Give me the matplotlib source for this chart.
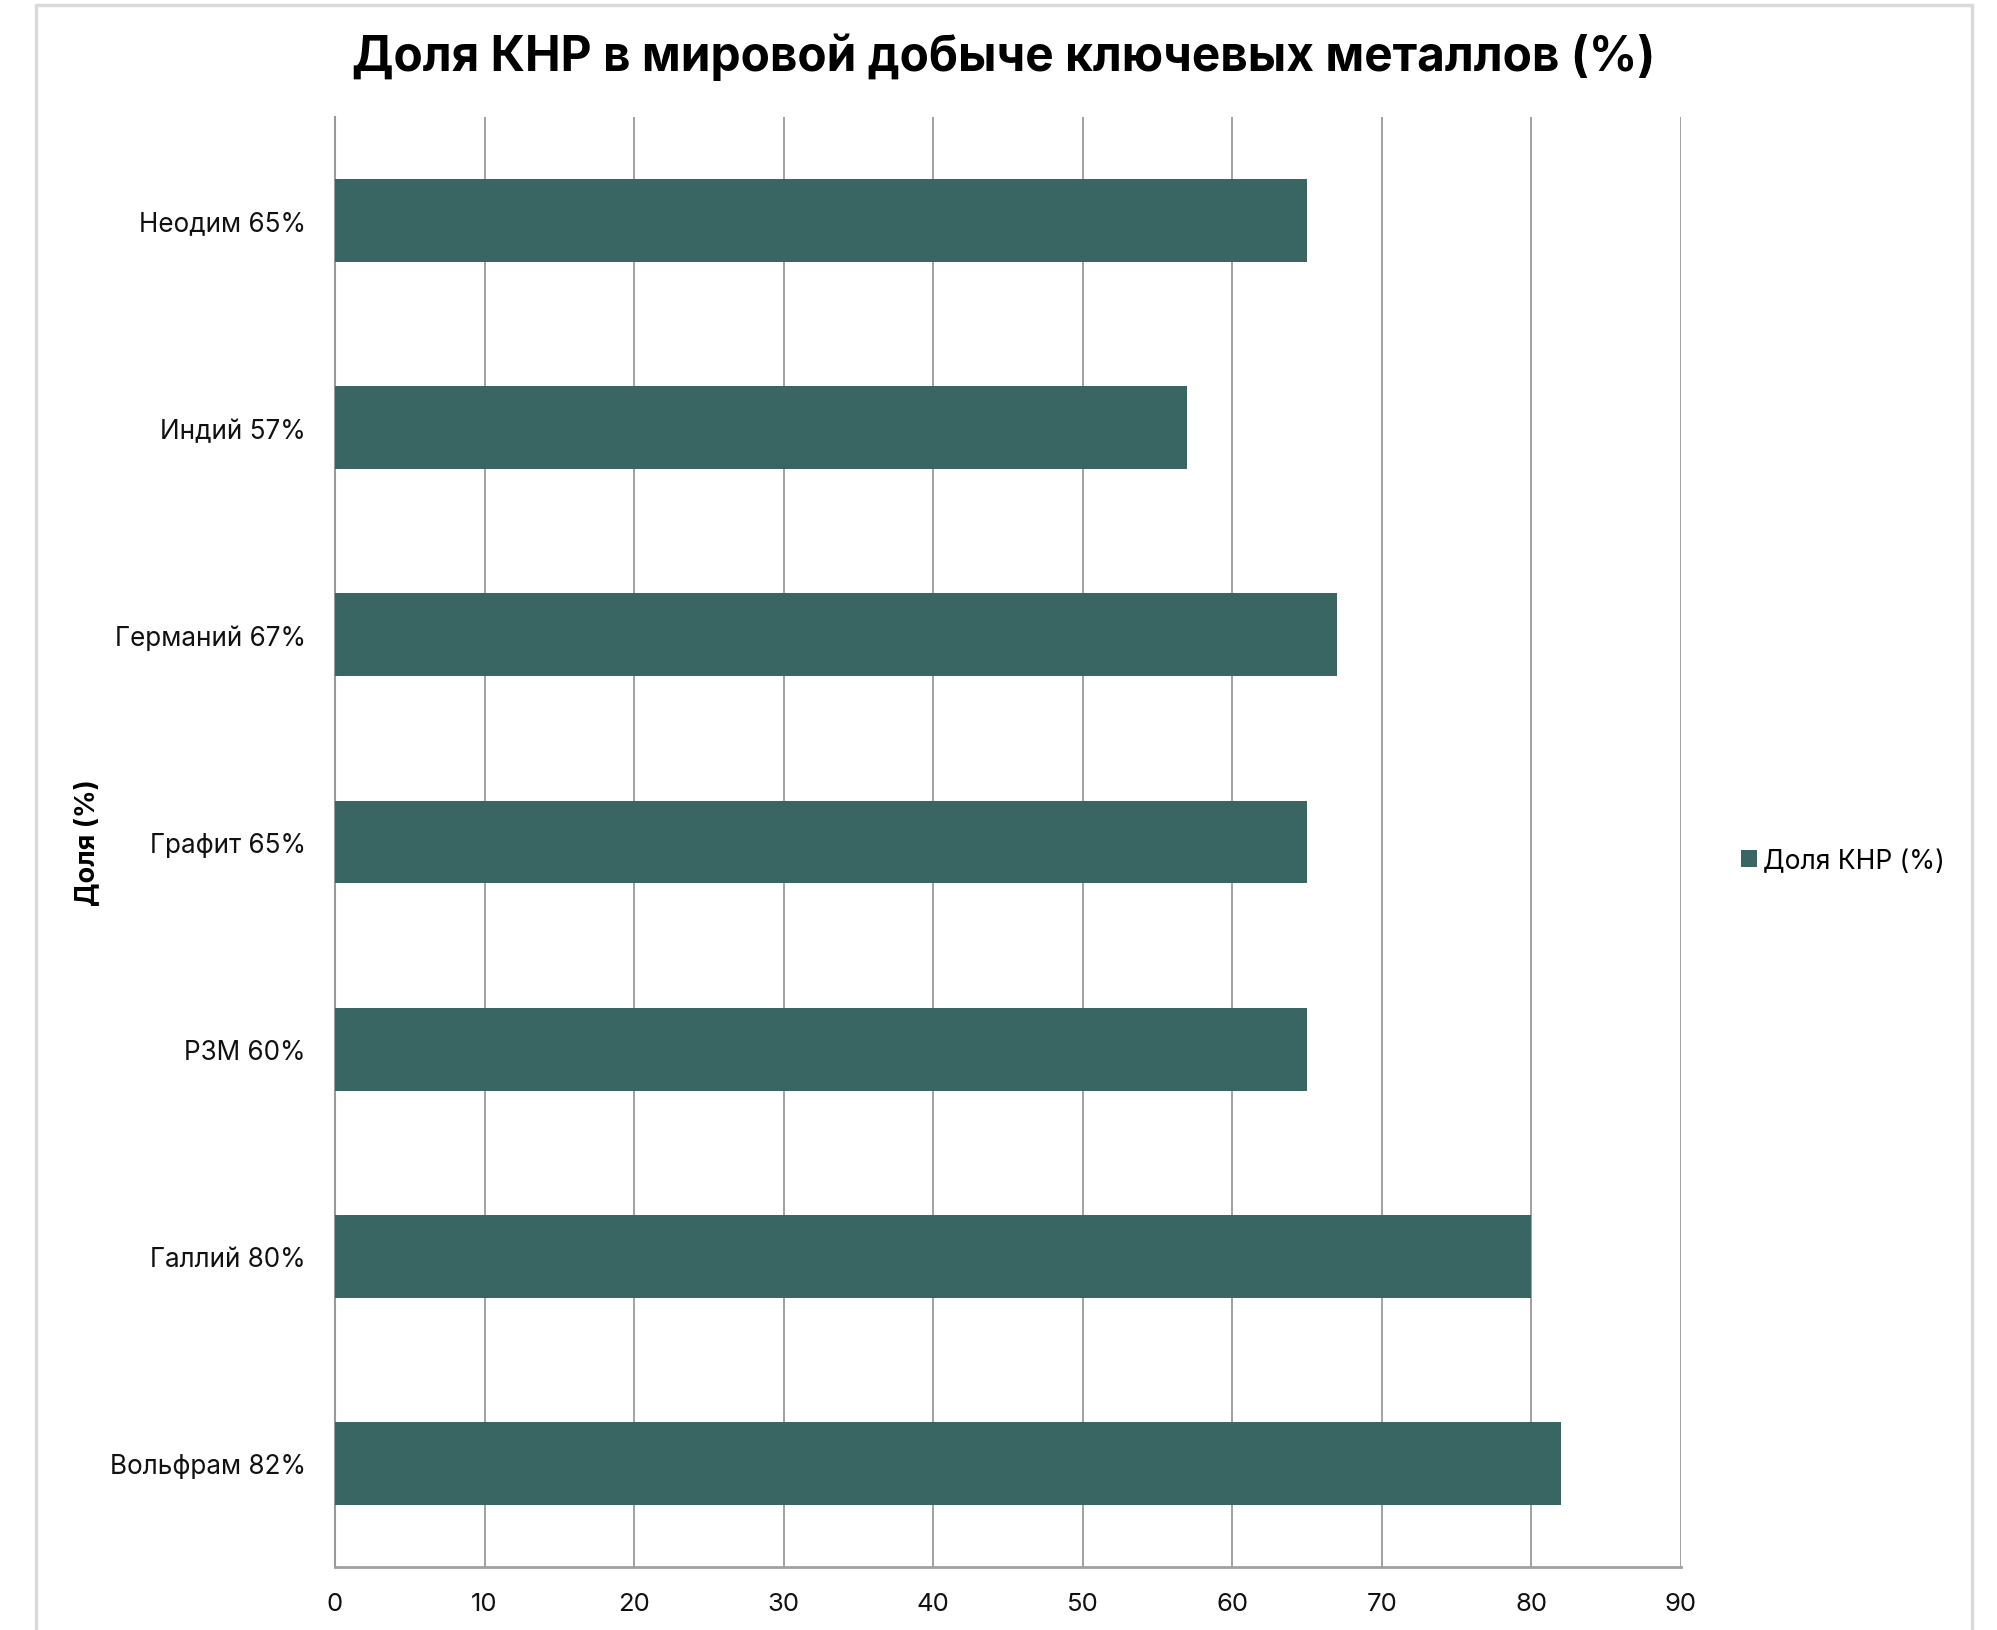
import matplotlib
matplotlib.use("Agg")
import matplotlib.pyplot as plt
from matplotlib.patches import Rectangle

categories = ["Неодим 65%", "Индий 57%", "Германий 67%", "Графит 65%",
              "РЗМ 60%", "Галлий 80%", "Вольфрам 82%"]
values = [65, 57, 67, 65, 65, 80, 82]
xticks = [0, 10, 20, 30, 40, 50, 60, 70, 80, 90]
title = "Доля КНР в мировой добыче ключевых металлов (%)"
series_name = "Доля КНР (%)"
ylabel = "Доля (%)"

plt.rcParams['font.family'] = ['Inter', 'DejaVu Sans']

fig = plt.figure(figsize=(19.97, 16.31), dpi=100)
ax = fig.add_axes([335/1997, 1-1568/1631, (1681-335)/1997, (1568-118)/1631])

bar_color = "#396563"
ypos = list(range(len(categories)))
bars = ax.barh(ypos, values, height=0.4, color=bar_color, label=series_name, zorder=3)
ax.set_ylim(len(categories)-0.5, -0.5)
ax.set_xlim(0, 90)
ax.set_xticks(xticks)
ax.set_xticklabels([str(t) for t in xticks])
ax.set_yticks(ypos)
ax.set_yticklabels(categories)
ax.tick_params(axis='both', length=0, labelsize=18.8, colors='#111111')
ax.tick_params(axis='x', pad=18, labelsize=18.5)
ax.tick_params(axis='y', pad=21)

ax.grid(axis='x', color='#9a9a9a', linewidth=1.3, zorder=0)
ax.grid(axis='y', visible=False)
for s in ['top', 'right']:
    ax.spines[s].set_visible(False)
ax.spines['left'].set_color('#9a9a9a')
ax.spines['left'].set_linewidth(1.5)
ax.spines['bottom'].set_color('#a0a0a0')
ax.spines['bottom'].set_linewidth(2)

fig.text(1004/1997, 1-57/1631, title, ha='center', va='center',
         fontsize=34.4, fontweight='bold', color='#000000')
fig.text(87/1997, 1-843/1631, ylabel, ha='center', va='center',
         rotation=90, fontsize=19.5, fontweight='bold', color='#000000')

fig.legend(handles=[bars], labels=[series_name], loc='center left',
           bbox_to_anchor=(1741/1997, 1-862/1631), frameon=False,
           fontsize=19, handlelength=0.6, handleheight=0.6,
           handletextpad=0.25, borderpad=0, borderaxespad=0)

frame = Rectangle((36/1997, -0.05), (1972-36)/1997, 1.05-6/1631,
                  transform=fig.transFigure, fill=False,
                  edgecolor='#d9d9d9', linewidth=2.5, zorder=-1)
fig.patches.append(frame)

fig.savefig("out.png", dpi=100, facecolor='white')
